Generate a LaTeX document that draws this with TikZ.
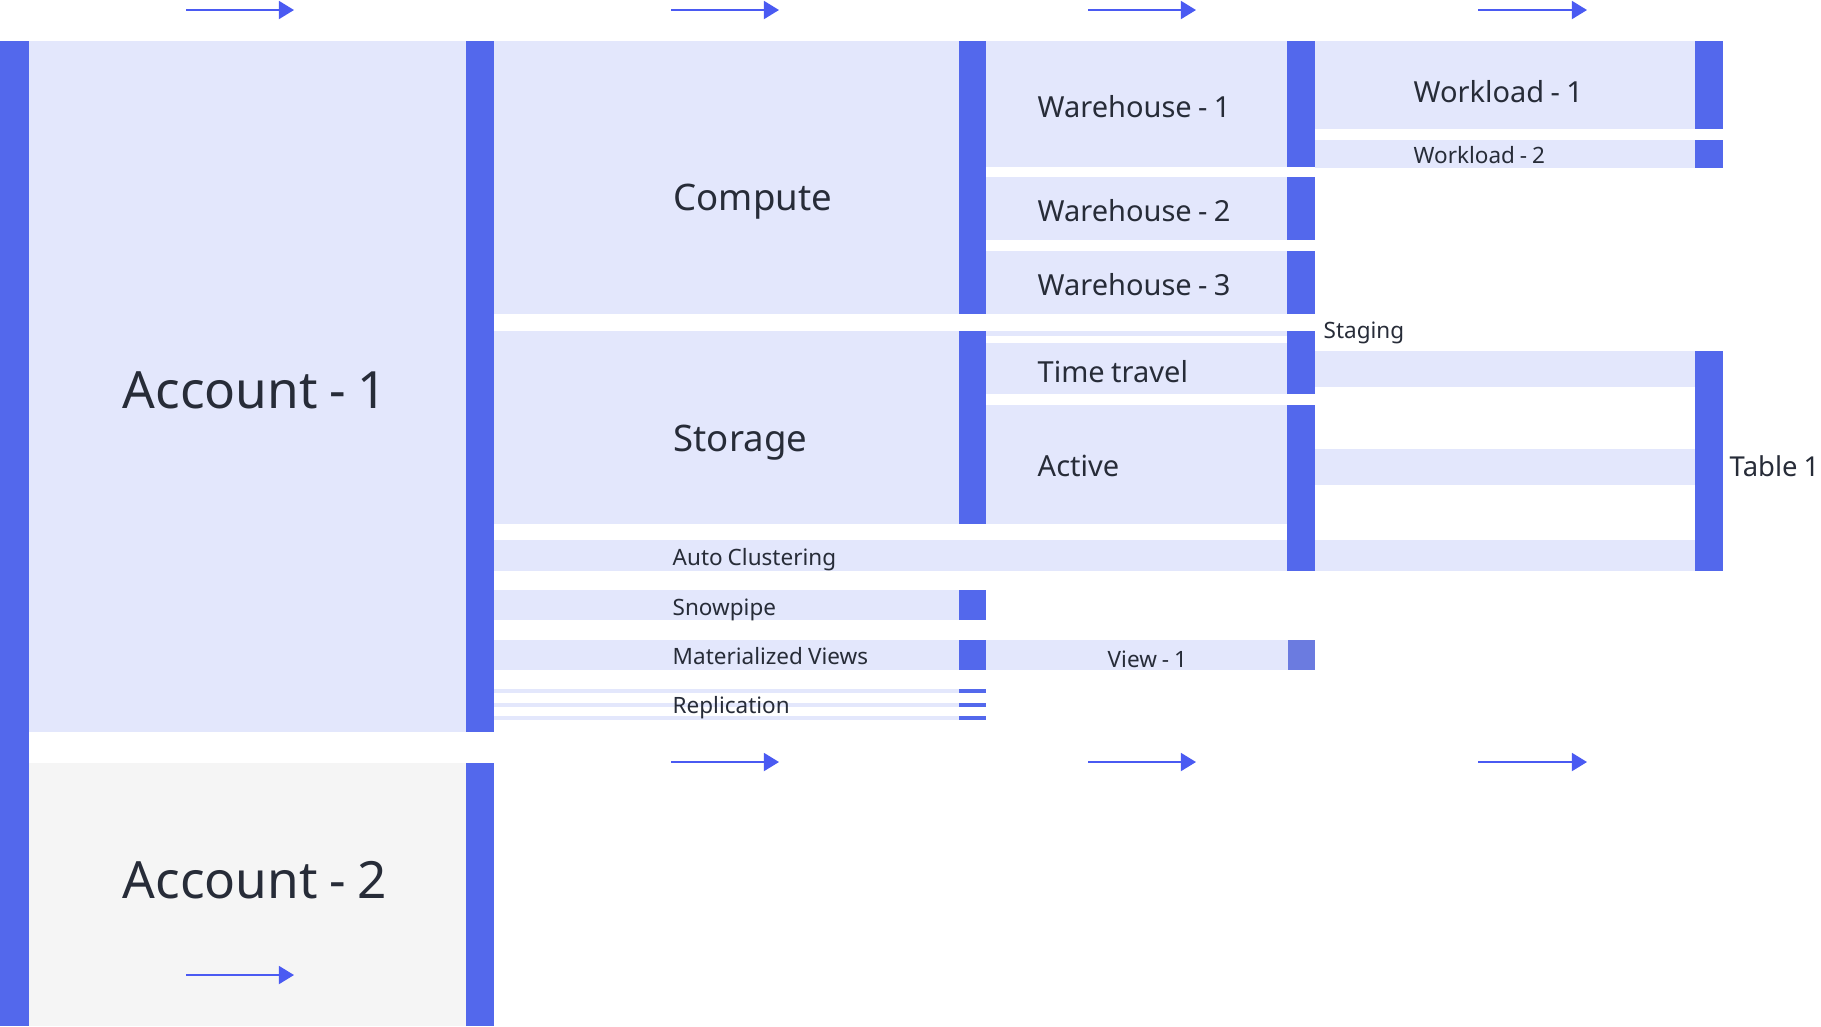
\documentclass[tikz,border=0pt]{standalone}
\usepackage{fontspec}
\setmainfont{Noto Sans}[WordSpace=0.85]
\usetikzlibrary{arrows.meta}
\definecolor{sfbar}{HTML}{5368EC}
\definecolor{sfbarlight}{HTML}{6B7BE0}
\definecolor{sfband}{HTML}{E3E7FC}
\definecolor{sfgray}{HTML}{F5F5F5}
\definecolor{sftext}{HTML}{272C38}
\definecolor{sfarrow}{HTML}{4A5AF2}

\begin{document}
\begin{tikzpicture}[
  x=0.01cm, y=-0.01cm,
  every node/.style={text=sftext, inner sep=0pt, anchor=base west},
  band/.style={fill=sfband},
  bar/.style={fill=sfbar},
  dirarrow/.style={draw=sfarrow, line width=0.6pt, -{Triangle[length=4.3pt, width=5.1pt]}},
  huge label/.style={font=\fontsize{14.6}{16}\selectfont},
  big label/.style={font=\fontsize{10.4}{12}\selectfont},
  mid label/.style={font=\fontsize{8.25}{10}\selectfont},
  small label/.style={font=\fontsize{6.4}{8}\selectfont},
]
\useasboundingbox (0,0) rectangle (1821,1026);

% Flow bands
\fill[band] (29,41) rectangle (466,732);
\fill[sfgray] (29,763) rectangle (466,1026);
\fill[band] (494,41) rectangle (959,314);
\fill[band] (494,331) rectangle (959,524);
\fill[band] (494,540) rectangle (1695,571);
\fill[band] (494,590) rectangle (959,620);
\fill[band] (494,640) rectangle (959,670);
\fill[band] (986,640) rectangle (1288,670);
\fill[band] (494,689) rectangle (959,693);
\fill[band] (494,703) rectangle (959,707);
\fill[band] (494,716) rectangle (959,720);
\fill[band] (986,41) rectangle (1287,167);
\fill[band] (986,177) rectangle (1287,240);
\fill[band] (986,251) rectangle (1287,314);
\fill[band] (986,331) rectangle (1287,336);
\fill[band] (986,343) rectangle (1287,394);
\fill[band] (986,405) rectangle (1287,524);
\fill[band] (1315,41) rectangle (1695,129);
\fill[band] (1315,140) rectangle (1695,168);
\fill[band] (1315,351) rectangle (1695,387);
\fill[band] (1315,449) rectangle (1695,485);

% Bars
\fill[bar] (0,41) rectangle (29,1026);
\fill[bar] (466,41) rectangle (494,732);
\fill[bar] (466,763) rectangle (494,1026);
\fill[bar] (959,41) rectangle (986,314);
\fill[bar] (959,331) rectangle (986,524);
\fill[bar] (959,590) rectangle (986,620);
\fill[bar] (959,640) rectangle (986,670);
\fill[bar] (959,689) rectangle (986,693);
\fill[bar] (959,703) rectangle (986,707);
\fill[bar] (959,716) rectangle (986,720);
\fill[bar] (1287,41) rectangle (1315,167);
\fill[bar] (1287,177) rectangle (1315,240);
\fill[bar] (1287,251) rectangle (1315,314);
\fill[bar] (1287,331) rectangle (1315,394);
\fill[bar] (1287,405) rectangle (1315,571);
\fill[sfbarlight] (1288,640) rectangle (1315,670);
\fill[bar] (1695,41) rectangle (1723,129);
\fill[bar] (1695,140) rectangle (1723,168);
\fill[bar] (1695,351) rectangle (1723,571);

% Labels
\node[huge label] (acct1) at (122,408) {Account - 1};
\node[huge label] (acct2) at (122,898) {Account - 2};
\node[big label] (compute) at (673,210) {Compute};
\node[big label] (storage) at (673,451) {Storage};
\node[small label] (autoclust) at (672,565) {Auto Clustering};
\node[small label] (snowpipe) at (672,615) {Snowpipe};
\node[small label] (matviews) at (672,664) {Materialized Views};
\node[small label] (replication) at (672,713) {Replication};
\node[mid label] (wh1) at (1037,117) {Warehouse - 1};
\node[mid label] (wh2) at (1037,221) {Warehouse - 2};
\node[mid label] (wh3) at (1037,295) {Warehouse - 3};
\node[small label] (staging) at (1323,338) {Staging};
\node[mid label] (timetravel) at (1037,382) {Time travel};
\node[mid label] (active) at (1037,476) {Active};
\node[small label] (view1) at (1107,667) {View - 1};
\node[mid label] (wl1) at (1413,102) {Workload - 1};
\node[small label] (wl2) at (1413,163) {Workload - 2};
\node[mid label, font=\fontsize{7.8}{10}\selectfont] (table1) at (1729,476) {Table 1};

% Direction arrows
\draw[dirarrow] (186,10) -- (294,10);
\draw[dirarrow] (671,10) -- (779,10);
\draw[dirarrow] (1088,10) -- (1196,10);
\draw[dirarrow] (1478,10) -- (1587,10);
\draw[dirarrow] (671,762) -- (779,762);
\draw[dirarrow] (1088,762) -- (1196,762);
\draw[dirarrow] (1478,762) -- (1587,762);
\draw[dirarrow] (186,975) -- (294,975);

\end{tikzpicture}
\end{document}
